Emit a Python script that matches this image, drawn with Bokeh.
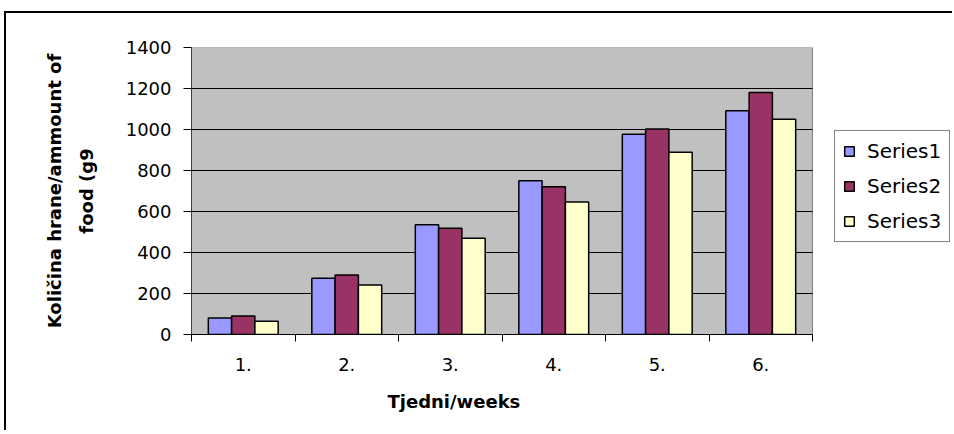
import numpy as np
from bokeh.plotting import figure
from bokeh.layouts import column, row
from bokeh.models import (Range1d, FixedTicker, Legend, LegendItem, Title,
                          ColumnDataSource, LinearAxis, Spacer)
from bokeh.embed import file_html
from bokeh.resources import INLINE

# ---- data ----
weeks = ["1.", "2.", "3.", "4.", "5.", "6."]
series_names = ["Series1", "Series2", "Series3"]
series1 = [80, 275, 535, 750, 977, 1091]
series2 = [90, 290, 518, 721, 1003, 1180]
series3 = [65, 242, 469, 646, 889, 1050]
y_ticks = [0, 200, 400, 600, 800, 1000, 1200, 1400]
x_title = "Tjedni/weeks"
y_title_lines = ["Količina hrane/ammount of", "food (g9"]
colors = ["#9999FF", "#993366", "#FFFFCC"]

FONT = "DejaVu Sans"

# layout (pixels): plot area 621 px wide, canvas frame extends to window edge
FRAME_W = 761
PLOT_W = 621
n = len(weeks)

fig = figure(width=946, height=417, output_backend="svg", toolbar_location=None,
             x_range=Range1d(0, n * FRAME_W / PLOT_W), y_range=Range1d(0, y_ticks[-1]),
             min_border_left=185, min_border_right=0,
             min_border_top=34, min_border_bottom=96)
fig.background_fill_color = "white"
fig.border_fill_color = "white"
fig.outline_line_color = None

# grey plot area
fig.quad(left=[0], right=[n], bottom=[0], top=[y_ticks[-1]],
         fill_color="#C0C0C0", line_color="#808080", line_width=1, level="image")

centers = np.arange(n) + 0.5
bw = 0.225
renderers = []
for k, (vals, c) in enumerate(zip([series1, series2, series3], colors)):
    src = ColumnDataSource(dict(x=centers + (k - 1) * bw, top=vals))
    r = fig.vbar(x="x", top="top", width=bw, bottom=0, source=src,
                 fill_color=c, line_color="black", line_width=1.5)
    renderers.append(r)

# gridlines limited to the plot area
g = fig.ygrid[0]
if "cross_bounds" in g.properties():
    g.ticker = FixedTicker(ticks=y_ticks[1:-1])
    g.cross_bounds = (0, n)
    g.grid_line_color = "black"
    g.grid_line_width = 1
else:
    g.visible = False
    fig.segment(x0=[0] * (len(y_ticks) - 2), x1=[n] * (len(y_ticks) - 2),
                y0=y_ticks[1:-1], y1=y_ticks[1:-1], line_color="black",
                line_width=1, level="underlay")
fig.xgrid.visible = False

# x axis: labels at category centres, ticks at category boundaries
xa = fig.xaxis[0]
xa.bounds = (0, n)
xa.ticker = FixedTicker(ticks=[float(c) for c in centers],
                        minor_ticks=list(range(n + 1)))
xa.major_label_overrides = {float(c): w for c, w in zip(centers, weeks)}
xa.major_tick_out = 0
xa.major_tick_in = 0
xa.minor_tick_out = 7
xa.minor_tick_in = 0
xa.minor_tick_line_color = "black"
xa.axis_line_color = "black"
xa.major_label_standoff = 16
xa.major_label_text_font = FONT
xa.major_label_text_font_size = "18px"
xa.major_label_text_color = "black"

ya = fig.yaxis[0]
ya.ticker = FixedTicker(ticks=y_ticks)
ya.major_tick_out = 8
ya.major_tick_in = 0
ya.minor_tick_line_color = None
ya.axis_line_color = "#404040"
ya.major_tick_line_color = "black"
ya.major_label_standoff = 12
ya.major_label_text_font = FONT
ya.major_label_text_font_size = "18px"
ya.major_label_text_color = "black"
ya.axis_label = y_title_lines[1]
ya.axis_label_standoff = 26
ya.axis_label_text_font = FONT
ya.axis_label_text_font_size = "18px"
ya.axis_label_text_font_style = "bold"
ya.axis_label_text_color = "black"

ya2 = LinearAxis(ticker=FixedTicker(ticks=[]), axis_line_color=None,
                 major_tick_line_color=None, minor_tick_line_color=None,
                 major_label_text_font_size="0px", major_label_standoff=0,
                 major_tick_out=0, minor_tick_out=0,
                 axis_label=y_title_lines[0], axis_label_standoff=8,
                 axis_label_text_font=FONT, axis_label_text_font_size="18px",
                 axis_label_text_font_style="bold", axis_label_text_color="black")
fig.add_layout(ya2, "left")

legend = Legend(items=[LegendItem(label=s, renderers=[r]) for s, r in zip(series_names, renderers)],
                location=(643, 92), border_line_color="black", border_line_width=1,
                background_fill_color="white", background_fill_alpha=1,
                label_text_font=FONT, label_text_font_size="20px",
                label_text_color="black",
                glyph_width=12, glyph_height=12, label_standoff=12,
                spacing=11, padding=8)
fig.add_layout(legend)

t = Title(text=x_title, align="left", offset=196, text_font=FONT,
          text_font_size="18px", text_font_style="bold", text_color="black")
if "standoff" in t.properties():
    t.standoff = 31
fig.add_layout(t, "below")

# outer chart-area border: top and left edges (plain filled spacers)
top_line = Spacer(width=948, height=2, margin=0, styles={"background-color": "black"})
left_line = Spacer(width=2, height=417, margin=0, styles={"background-color": "black"})
p = column(Spacer(height=11, margin=0),
           row(Spacer(width=4, margin=0),
               column(top_line, row(left_line, fig, spacing=0), spacing=0),
               spacing=0),
           spacing=0)

open("out.html", "w").write(file_html(p, INLINE))
